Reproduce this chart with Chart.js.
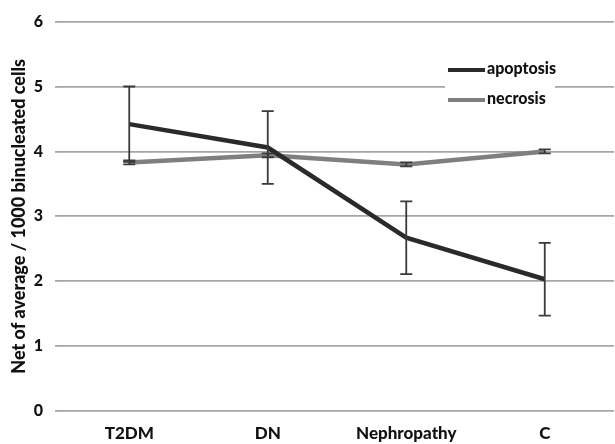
<!DOCTYPE html>
<html>
<head>
<meta charset="utf-8">
<script src="https://cdn.jsdelivr.net/npm/chart.js@4/dist/chart.umd.min.js"></script>
<style>
  html, body { margin: 0; padding: 0; background: #fff; }
  #wrap { width: 615px; height: 444px; }
</style>
</head>
<body>
<div id="wrap"><canvas id="myChart" width="615" height="444"></canvas></div>
<script>
const categories = ["T2DM", "DN", "Nephropathy", "C"];
const apoptosis = [4.42, 4.06, 2.67, 2.03];
const apoptosisErr = [0.58, 0.56, 0.56, 0.56];
const necrosis = [3.83, 3.94, 3.80, 4.00];
const necrosisErr = [0.03, 0.03, 0.03, 0.03];
const yTicks = [0, 1, 2, 3, 4, 5, 6];

const errorBars = {
  id: "errorBars",
  afterDatasetsDraw(chart) {
    const ctx = chart.ctx;
    const x = chart.scales.x;
    const y = chart.scales.y;
    const sets = [[necrosis, necrosisErr], [apoptosis, apoptosisErr]];
    ctx.save();
    ctx.strokeStyle = "#3a3a3a";
    ctx.lineWidth = 1.8;
    sets.forEach(([vals, errs]) => {
      vals.forEach((v, i) => {
        const px = x.getPixelForValue(i);
        const top = y.getPixelForValue(v + errs[i]);
        const bot = y.getPixelForValue(v - errs[i]);
        ctx.beginPath();
        ctx.moveTo(px, top); ctx.lineTo(px, bot);
        ctx.moveTo(px - 6, top); ctx.lineTo(px + 6, top);
        ctx.moveTo(px - 6, bot); ctx.lineTo(px + 6, bot);
        ctx.stroke();
      });
    });
    ctx.restore();
  }
};

const boxLegend = {
  id: "boxLegend",
  afterDraw(chart) {
    const ctx = chart.ctx;
    ctx.save();
    ctx.fillStyle = "#fff";
    ctx.fillRect(445, 58, 110, 55);
    const items = [["apoptosis", "#2a2a2a", 70], ["necrosis", "#7f7f7f", 100]];
    ctx.font = "900 16px Lato";
    ctx.textBaseline = "middle";
    items.forEach(([label, color, yy]) => {
      ctx.strokeStyle = color;
      ctx.lineWidth = 4;
      ctx.beginPath();
      ctx.moveTo(448, yy); ctx.lineTo(485, yy);
      ctx.stroke();
      ctx.fillStyle = "#111";
      ctx.fillText(label, 487, yy - 1);
    });
    ctx.restore();
  }
};

new Chart(document.getElementById("myChart").getContext("2d"), {
  type: "line",
  data: {
    labels: categories,
    datasets: [
      {
        label: "apoptosis",
        data: apoptosis,
        borderColor: "#2a2a2a",
        borderWidth: 4.5,
        pointRadius: 0,
        tension: 0
      },
      {
        label: "necrosis",
        data: necrosis,
        borderColor: "#7f7f7f",
        borderWidth: 4.5,
        pointRadius: 0,
        tension: 0
      }
    ]
  },
  options: {
    responsive: false,
    animation: false,
    layout: { padding: { top: 19, right: 1, left: 0, bottom: 0 } },
    plugins: {
      legend: { display: false },
      tooltip: { enabled: false }
    },
    scales: {
      x: {
        offset: true,
        grid: { display: false },
        border: { display: false },
        ticks: {
          color: "#111",
          font: { family: "Lato", size: 17, weight: "900" },
          padding: 4
        },
        afterFit(scale) { scale.height = 33; }
      },
      y: {
        min: 0,
        max: 6,
        afterBuildTicks(scale) { scale.ticks = yTicks.map(v => ({ value: v })); },
        grid: {
          color: "#a6a6a6",
          lineWidth: 1.8,
          tickLength: 5
        },
        border: { display: false },
        ticks: {
          color: "#111",
          font: { family: "Lato", size: 16, weight: "900" },
          padding: 12
        },
        title: {
          display: true,
          text: "Net of average / 1000 binucleated cells",
          color: "#111",
          font: { family: "Lato", size: 18, weight: "900" },
          padding: { top: 8, bottom: 0 }
        },
        afterFit(scale) { scale.width = 60; }
      }
    }
  },
  plugins: [errorBars, boxLegend]
});
</script>
</body>
</html>
